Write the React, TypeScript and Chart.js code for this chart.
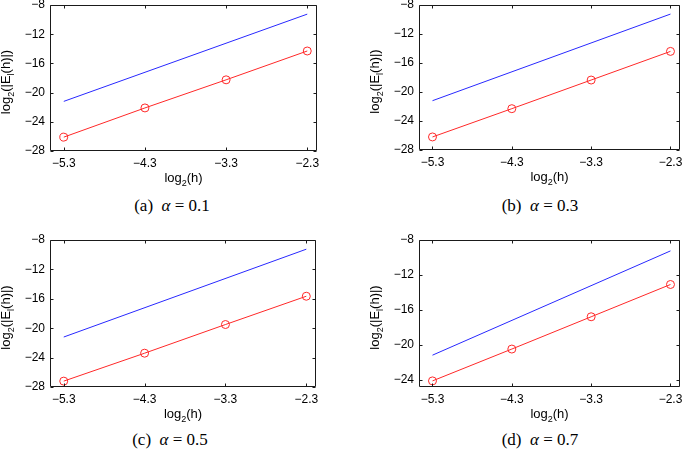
import React, { useEffect, useRef } from "react";
import { Chart, registerables } from "chart.js";

Chart.register(...registerables);

// ---------- data ----------
const logH = [-5.3, -4.3, -3.3, -2.3];
const xTickValues = [-5.3, -4.3, -3.3, -2.3];
const refLogH = [-5.3, -2.3];
const refLogE = [-21.2, -9.25];
const errAlpha01 = [-26.1, -22.1, -18.25, -14.3];
const errAlpha03 = [-26.2, -22.3, -18.35, -14.4];
const errAlpha05 = [-27.2, -23.4, -19.5, -15.65];
const errAlpha07 = [-24.15, -20.5, -16.8, -13.1];
const yTicksABC = [-28, -24, -20, -16, -12, -8];
const yTicksD = [-24, -20, -16, -12, -8];
const panelLetters = ["a", "b", "c", "d"];
const alphaValues = ["0.1", "0.3", "0.5", "0.7"];

const X_MIN = -5.47;
const X_MAX = -2.18;

const SANS = '"Liberation Sans", Arial, Helvetica, "DejaVu Sans", sans-serif';
const SERIF = '"Liberation Serif", "Times New Roman", Times, "DejaVu Serif", serif';

type Seg = { t: string; sub?: boolean };

function drawSegs(ctx: CanvasRenderingContext2D, segs: Seg[], cx: number, baseline: number, size: number) {
  const subSize = Math.round(size * 0.7);
  const widths = segs.map((s) => {
    ctx.font = `${s.sub ? subSize : size}px ${SANS}`;
    return ctx.measureText(s.t).width;
  });
  const total = widths.reduce((a, b) => a + b, 0);
  let x = cx - total / 2;
  ctx.textAlign = "left";
  ctx.textBaseline = "alphabetic";
  segs.forEach((s, i) => {
    ctx.font = `${s.sub ? subSize : size}px ${SANS}`;
    ctx.fillText(s.t, x, baseline + (s.sub ? size * 0.3 : 0));
    x += widths[i];
  });
}

const xTitle: Seg[] = [{ t: "log" }, { t: "2", sub: true }, { t: "(h)" }];
const yTitle: Seg[] = [
  { t: "log" },
  { t: "2", sub: true },
  { t: "(|E" },
  { t: "l", sub: true },
  { t: "(h)|)" },
];

const fmt = (v: number) => {
  const s = Number.isInteger(v) ? String(v) : v.toFixed(1);
  return s.replace("-", "\u2212");
};

type PanelProps = {
  left: number;
  top: number;
  width: number;
  height: number;
  padLeft: number;
  padTop: number;
  padRight: number;
  areaBottom: number;
  yMin: number;
  yMax: number;
  yTicks: number[];
  err: number[];
};

function Panel(p: PanelProps) {
  const ref = useRef<HTMLCanvasElement | null>(null);
  useEffect(() => {
    const canvas = ref.current!;
    const boxPlugin = {
      id: "matlabBox",
      afterDraw(chart: any) {
        const { ctx, chartArea } = chart;
        const { left, right, top, bottom } = chartArea;
        const xs = chart.scales.x;
        const ys = chart.scales.y;
        ctx.save();
        ctx.strokeStyle = "#1a1a1a";
        ctx.lineWidth = 1;
        const L = Math.round(left) + 0.5;
        const R = Math.round(right) - 0.5;
        const T = Math.round(top) + 0.5;
        const B = Math.round(bottom) - 0.5;
        ctx.beginPath();
        ctx.rect(L, T, R - L, B - T);
        const tl = 3;
        xTickValues.forEach((v) => {
          const px = Math.round(xs.getPixelForValue(v)) + 0.5;
          ctx.moveTo(px, B);
          ctx.lineTo(px, B - tl);
          ctx.moveTo(px, T);
          ctx.lineTo(px, T + tl);
        });
        p.yTicks.forEach((v) => {
          const py = Math.round(ys.getPixelForValue(v)) + 0.5;
          ctx.moveTo(L, py);
          ctx.lineTo(L + tl, py);
          ctx.moveTo(R, py);
          ctx.lineTo(R - tl, py);
        });
        ctx.stroke();
        ctx.fillStyle = "#000";
        drawSegs(ctx, xTitle, (left + right) / 2, bottom + 31, 13);
        ctx.translate(left - 40, (top + bottom) / 2 + 4);
        ctx.rotate(-Math.PI / 2);
        drawSegs(ctx, yTitle, 0, 0, 13);
        ctx.restore();
      },
    };
    const chart = new Chart(canvas, {
      type: "line",
      data: {
        datasets: [
          {
            data: refLogH.map((x, i) => ({ x, y: refLogE[i] })),
            borderColor: "rgb(40,40,255)",
            borderWidth: 1,
            pointRadius: 0,
            fill: false,
          },
          {
            data: logH.map((x, i) => ({ x, y: p.err[i] })),
            borderColor: "rgb(255,40,40)",
            borderWidth: 1,
            pointRadius: 4,
            pointStyle: "circle",
            pointBorderWidth: 1,
            pointBorderColor: "rgb(255,40,40)",
            pointBackgroundColor: "rgba(0,0,0,0)",
            fill: false,
          },
        ],
      },
      options: {
        animation: false,
        responsive: false,
        events: [],
        layout: { padding: { left: p.padLeft, top: p.padTop, right: p.padRight, bottom: 0 } },
        plugins: { legend: { display: false }, tooltip: { enabled: false }, title: { display: false } },
        scales: {
          x: {
            type: "linear",
            min: X_MIN,
            max: X_MAX,
            grid: { display: false, drawTicks: false },
            border: { display: false },
            ticks: {
              color: "#000",
              padding: 5,
              maxRotation: 0,
              autoSkip: false,
              font: { family: SANS, size: 12 },
              callback: (v: any) => fmt(Number(v)),
            },
            afterBuildTicks: (scale: any) => {
              scale.ticks = xTickValues.map((value) => ({ value }));
            },
            afterFit: (scale: any) => {
              scale.height = p.height - p.areaBottom;
              scale.paddingLeft = 0;
              scale.paddingRight = 0;
            },
          },
          y: {
            type: "linear",
            min: p.yMin,
            max: p.yMax,
            grid: { display: false, drawTicks: false },
            border: { display: false },
            ticks: {
              color: "#000",
              padding: 5,
              autoSkip: false,
              font: { family: SANS, size: 12 },
              callback: (v: any) => fmt(Number(v)),
            },
            afterBuildTicks: (scale: any) => {
              scale.ticks = p.yTicks.map((value) => ({ value }));
            },
            afterFit: (scale: any) => {
              scale.width = 50;
              scale.paddingTop = 0;
              scale.paddingBottom = 0;
            },
          },
        },
      },
      plugins: [boxPlugin],
    } as any);
    return () => chart.destroy();
  }, []);
  return (
    <canvas
      ref={ref}
      width={p.width}
      height={p.height}
      style={{ position: "absolute", left: p.left, top: p.top, width: p.width, height: p.height }}
    />
  );
}

function Caption({ cx, top, idx }: { cx: number; top: number; idx: number }) {
  return (
    <div
      style={{
        position: "absolute",
        left: cx - 100,
        top,
        width: 200,
        textAlign: "center",
        fontFamily: SERIF,
        fontSize: 17,
        lineHeight: "20px",
        color: "#000",
        whiteSpace: "pre",
      }}
    >
      {`(${panelLetters[idx]})  `}
      <i style={{ fontFamily: SERIF }}>α</i>
      {` = ${alphaValues[idx]}`}
    </div>
  );
}

export default function App() {
  return (
    <div style={{ position: "absolute", left: 0, top: 0, width: 685, height: 449, background: "#fff", overflow: "hidden" }}>
      <Panel left={0} top={0} width={343} height={192} padLeft={0} padTop={5} padRight={26} areaBottom={151}
        yMin={-28} yMax={-8} yTicks={yTicksABC} err={errAlpha01} />
      <Panel left={343} top={0} width={342} height={192} padLeft={26} padTop={5} padRight={1} areaBottom={150}
        yMin={-28} yMax={-8} yTicks={yTicksABC} err={errAlpha03} />
      <Panel left={0} top={225} width={343} height={200} padLeft={0} padTop={15} padRight={27} areaBottom={162}
        yMin={-28} yMax={-8} yTicks={yTicksABC} err={errAlpha05} />
      <Panel left={343} top={225} width={342} height={200} padLeft={26} padTop={15} padRight={1} areaBottom={162}
        yMin={-24.85} yMax={-8} yTicks={yTicksD} err={errAlpha07} />
      <Caption cx={172} top={196} idx={0} />
      <Caption cx={540} top={196} idx={1} />
      <Caption cx={170} top={430} idx={2} />
      <Caption cx={540} top={430} idx={3} />
    </div>
  );
}
